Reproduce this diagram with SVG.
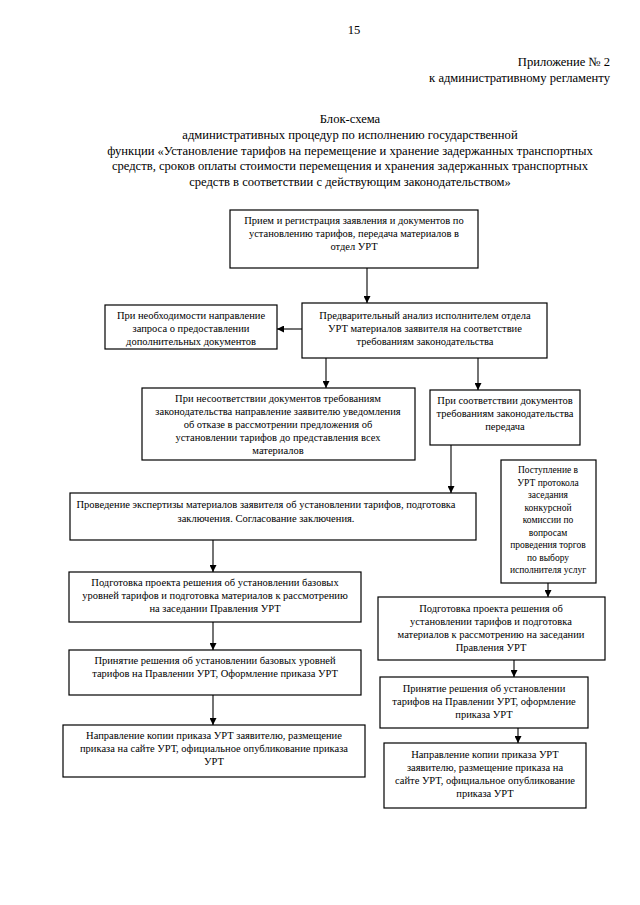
<svg xmlns="http://www.w3.org/2000/svg" width="640" height="905" viewBox="0 0 640 905" font-family="'Liberation Serif', Tinos, 'Times New Roman', 'DejaVu Serif', serif">
<style>
text{font-family:'Liberation Serif',Tinos,'Times New Roman','DejaVu Serif',serif;fill:#000}
.h{font-size:12.6px}
.t{font-size:10.5px;text-anchor:middle}
.s{font-size:9.5px;text-anchor:middle}
.c{text-anchor:middle}
.r{text-anchor:end}
rect{fill:#fff;stroke:#000;stroke-width:1.2}
.ln{stroke:#000;stroke-width:1.1;fill:none}
</style>
<defs>
<marker id="ar" viewBox="0 0 10 10" refX="10" refY="5" markerWidth="7" markerHeight="7" orient="auto" markerUnits="userSpaceOnUse">
<path d="M0,0 L10,5 L0,10 z" fill="#000"/>
</marker>
</defs>
<rect x="0" y="0" width="640" height="905" style="fill:#fff;stroke:none"/>
<g id="header">
<text class="h c" x="354" y="34">15</text>
<text class="h r" x="610" y="66">Приложение № 2</text>
<text class="h r" x="610" y="82">к административному регламенту</text>
<text class="h c" x="350" y="123">Блок-схема</text>
<text class="h c" x="350" y="139">административных процедур по исполнению государственной</text>
<text class="h c" x="350" y="155">функции «Установление тарифов на перемещение и хранение задержанных транспортных</text>
<text class="h c" x="350" y="170">средств, сроков оплаты стоимости перемещения и хранения задержанных транспортных</text>
<text class="h c" x="350" y="186">средств в соответствии с действующим законодательством»</text>
</g>
<g id="n1"><rect x="230" y="210" width="248" height="58"/>
<text class="t" x="354" y="224">Прием и регистрация заявления и документов по</text>
<text class="t" x="354" y="237">установлению тарифов, передача материалов в</text>
<text class="t" x="354" y="250">отдел УРТ</text></g>
<g id="n2"><rect x="105" y="305" width="172" height="44"/>
<text class="t" x="191" y="319">При необходимости направление</text>
<text class="t" x="191" y="332">запроса о предоставлении</text>
<text class="t" x="191" y="345">дополнительных документов</text></g>
<g id="n3"><rect x="302" y="303" width="245" height="55"/>
<text class="t" x="425" y="319">Предварительный анализ исполнителем отдела</text>
<text class="t" x="425" y="332">УРТ материалов заявителя на соответствие</text>
<text class="t" x="425" y="345">требованиям законодательства</text></g>
<g id="n4"><rect x="142" y="388" width="273" height="72"/>
<text class="t" x="278" y="402">При несоответствии документов требованиям</text>
<text class="t" x="278" y="415">законодательства направление заявителю уведомления</text>
<text class="t" x="278" y="428">об отказе в рассмотрении предложения об</text>
<text class="t" x="278" y="441">установлении тарифов до представления всех</text>
<text class="t" x="278" y="454">материалов</text></g>
<g id="n5"><rect x="430" y="390" width="150" height="55"/>
<text class="t" x="505" y="404">При соответствии документов</text>
<text class="t" x="505" y="417">требованиям законодательства</text>
<text class="t" x="505" y="430">передача</text></g>
<g id="n6"><rect x="501" y="460" width="95" height="123"/>
<text class="s" x="548" y="473">Поступление в</text>
<text class="s" x="548" y="485.5">УРТ протокола</text>
<text class="s" x="548" y="498">заседания</text>
<text class="s" x="548" y="510.5">конкурсной</text>
<text class="s" x="548" y="523">комиссии по</text>
<text class="s" x="548" y="535.5">вопросам</text>
<text class="s" x="548" y="548">проведения торгов</text>
<text class="s" x="548" y="560.5">по выбору</text>
<text class="s" x="548" y="573">исполнителя услуг</text></g>
<g id="n7"><rect x="70" y="493" width="406" height="47"/>
<text class="t" x="266" y="508">Проведение экспертизы материалов заявителя об установлении тарифов, подготовка</text>
<text class="t" x="266" y="522">заключения. Согласование заключения.</text></g>
<g id="n8"><rect x="69" y="572" width="292" height="50"/>
<text class="t" x="215" y="586">Подготовка проекта решения об установлении базовых</text>
<text class="t" x="215" y="599">уровней тарифов и подготовка материалов к рассмотрению</text>
<text class="t" x="215" y="612">на заседании Правления УРТ</text></g>
<g id="n9"><rect x="69" y="650" width="292" height="45"/>
<text class="t" x="215" y="664">Принятие решения об установлении базовых уровней</text>
<text class="t" x="215" y="677">тарифов на Правлении УРТ, Оформление приказа УРТ</text></g>
<g id="n10"><rect x="63" y="725" width="302" height="52"/>
<text class="t" x="214" y="739">Направление копии приказа УРТ заявителю, размещение</text>
<text class="t" x="214" y="752">приказа на сайте УРТ, официальное опубликование приказа</text>
<text class="t" x="214" y="765">УРТ</text></g>
<g id="n11"><rect x="378" y="597" width="227" height="63"/>
<text class="t" x="491" y="612">Подготовка проекта решения об</text>
<text class="t" x="491" y="625">установлении тарифов и подготовка</text>
<text class="t" x="491" y="638">материалов к рассмотрению на заседании</text>
<text class="t" x="491" y="651">Правления УРТ</text></g>
<g id="n12"><rect x="380" y="677" width="208" height="51"/>
<text class="t" x="484" y="692">Принятие решения об установлении</text>
<text class="t" x="484" y="705">тарифов на Правлении УРТ, оформление</text>
<text class="t" x="484" y="718">приказа УРТ</text></g>
<g id="n13"><rect x="384" y="743" width="202" height="65"/>
<text class="t" x="485" y="758">Направление копии приказа УРТ</text>
<text class="t" x="485" y="771">заявителю, размещение приказа на</text>
<text class="t" x="485" y="784">сайте УРТ, официальное опубликование</text>
<text class="t" x="485" y="797">приказа УРТ</text></g>
<g id="connectors">
<line class="ln" x1="367" y1="268" x2="367" y2="303" marker-end="url(#ar)"/>
<line class="ln" x1="302" y1="329" x2="277" y2="329" marker-end="url(#ar)"/>
<line class="ln" x1="326" y1="358" x2="326" y2="388" marker-end="url(#ar)"/>
<line class="ln" x1="478" y1="358" x2="478" y2="390" marker-end="url(#ar)"/>
<line class="ln" x1="451" y1="445" x2="451" y2="493" marker-end="url(#ar)"/>
<line class="ln" x1="213" y1="540" x2="213" y2="572" marker-end="url(#ar)"/>
<line class="ln" x1="213" y1="622" x2="213" y2="650" marker-end="url(#ar)"/>
<line class="ln" x1="213" y1="695" x2="213" y2="725" marker-end="url(#ar)"/>
<line class="ln" x1="548" y1="583" x2="548" y2="597" marker-end="url(#ar)"/>
<line class="ln" x1="514" y1="660" x2="514" y2="677" marker-end="url(#ar)"/>
<line class="ln" x1="518" y1="728" x2="518" y2="743" marker-end="url(#ar)"/>
</g>
</svg>
